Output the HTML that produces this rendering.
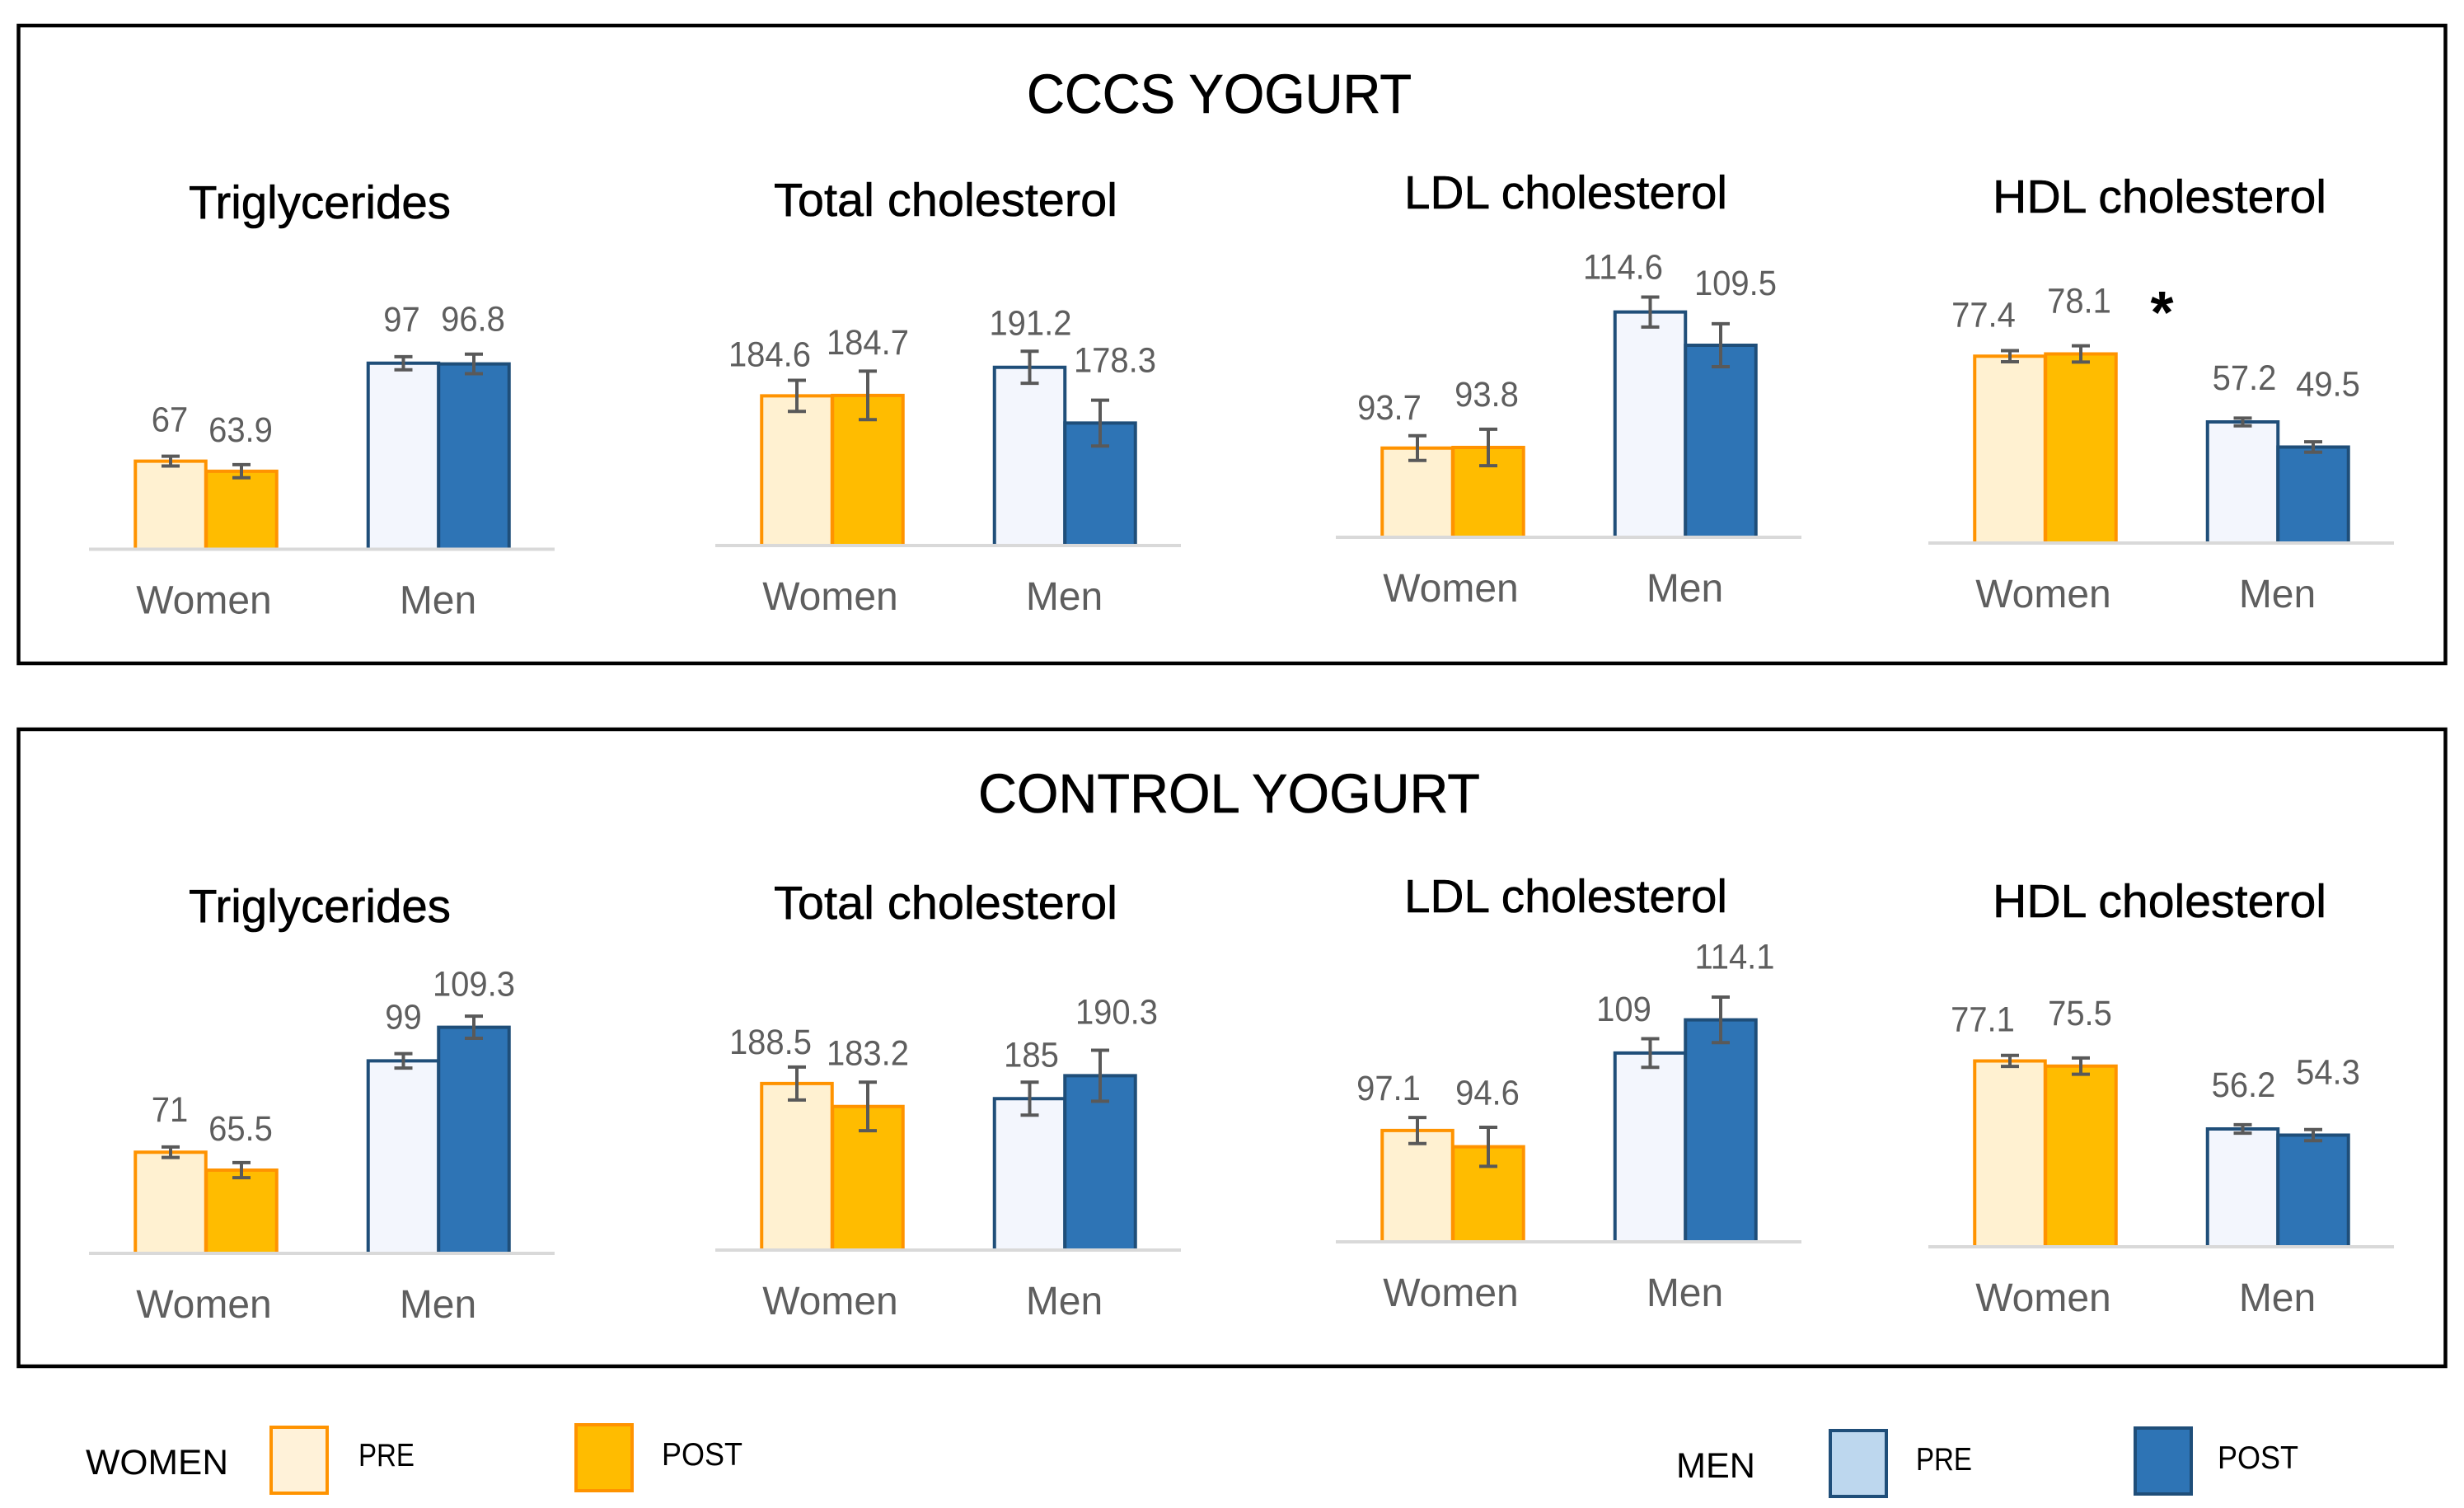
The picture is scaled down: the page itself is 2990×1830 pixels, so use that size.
<!DOCTYPE html>
<html lang="en">
<head>
<meta charset="utf-8">
<title>CCCS and control yogurt lipid outcomes</title>
<style>
  html, body { margin: 0; padding: 0; background: #fff; }
  body { width: 2990px; height: 1830px; overflow: hidden; }
  svg { display: block; font-family: "Liberation Sans", sans-serif; }
  .section-title { font-size: 67px; fill: #000; stroke: #000; stroke-width: 0.6px; }
  .chart-title { font-size: 57px; fill: #000; stroke: #000; stroke-width: 0.6px; }
  .legend-head { font-size: 43px; fill: #000; }
  .legend-text { font-size: 39px; fill: #000; }
</style>
</head>
<body>
<svg id="figure" xmlns="http://www.w3.org/2000/svg" width="2990" height="1830" viewBox="0 0 2990 1830">
  <rect x="0" y="0" width="2990" height="1830" fill="#fff"/>
  <rect x="22.5" y="31" width="2945" height="774" fill="none" stroke="#000" stroke-width="4.5"/>
  <rect x="22.5" y="885" width="2945" height="773" fill="none" stroke="#000" stroke-width="4.5"/>

  <text class="section-title" x="1246" y="137" textLength="467" lengthAdjust="spacingAndGlyphs">CCCS YOGURT</text>
  <text class="section-title" x="1187" y="986" textLength="609" lengthAdjust="spacingAndGlyphs">CONTROL YOGURT</text>

  <text class="chart-title" x="229" y="265" textLength="318" lengthAdjust="spacingAndGlyphs">Triglycerides</text>
  <text class="chart-title" x="939" y="262" textLength="417" lengthAdjust="spacingAndGlyphs">Total cholesterol</text>
  <text class="chart-title" x="1704" y="253" textLength="392" lengthAdjust="spacingAndGlyphs">LDL cholesterol</text>
  <text class="chart-title" x="2418" y="258" textLength="405" lengthAdjust="spacingAndGlyphs">HDL cholesterol</text>

  <text class="chart-title" x="229" y="1119" textLength="318" lengthAdjust="spacingAndGlyphs">Triglycerides</text>
  <text class="chart-title" x="939" y="1115" textLength="417" lengthAdjust="spacingAndGlyphs">Total cholesterol</text>
  <text class="chart-title" x="1704" y="1107" textLength="392" lengthAdjust="spacingAndGlyphs">LDL cholesterol</text>
  <text class="chart-title" x="2418" y="1113" textLength="405" lengthAdjust="spacingAndGlyphs">HDL cholesterol</text>

  <text x="2623.5" y="404" text-anchor="middle" font-size="72" font-weight="bold" fill="#000">*</text>

  <g id="charts"></g>

  <g>
    <text class="legend-head" x="104" y="1789" textLength="173" lengthAdjust="spacingAndGlyphs">WOMEN</text>
    <rect x="329" y="1732" width="68" height="80" fill="#FFF2D9" stroke="#FF9300" stroke-width="4"/>
    <text class="legend-text" x="435" y="1779" textLength="68" lengthAdjust="spacingAndGlyphs">PRE</text>
    <rect x="699" y="1729" width="68" height="80" fill="#FFBC00" stroke="#FF9300" stroke-width="4"/>
    <text class="legend-text" x="803" y="1778" textLength="98" lengthAdjust="spacingAndGlyphs">POST</text>
  </g>
  <g>
    <text class="legend-head" x="2034" y="1793" textLength="96" lengthAdjust="spacingAndGlyphs">MEN</text>
    <rect x="2221" y="1736" width="68" height="80" fill="#BDD7EE" stroke="#1F4E79" stroke-width="4"/>
    <text class="legend-text" x="2325" y="1784" textLength="68" lengthAdjust="spacingAndGlyphs">PRE</text>
    <rect x="2591" y="1733" width="68" height="80" fill="#2E74B5" stroke="#1F4E79" stroke-width="4"/>
    <text class="legend-text" x="2691" y="1782" textLength="98" lengthAdjust="spacingAndGlyphs">POST</text>
  </g>
</svg>

<script>
// Categories and series order
const categories = ['Women', 'Men'];
const barSeries = ['women-pre', 'women-post', 'men-pre', 'men-post'];
const panelKeys = ['cccs', 'control'];
const chartKeys = ['triglycerides', 'total-cholesterol', 'ldl-cholesterol', 'hdl-cholesterol'];

// Values: women pre, women post, men pre, men post
const cccsTriglycerides = [67, 63.9, 97, 96.8];
const cccsTotalCholesterol = [184.6, 184.7, 191.2, 178.3];
const cccsLdlCholesterol = [93.7, 93.8, 114.6, 109.5];
const cccsHdlCholesterol = [77.4, 78.1, 57.2, 49.5];
const controlTriglycerides = [71, 65.5, 99, 109.3];
const controlTotalCholesterol = [188.5, 183.2, 185, 190.3];
const controlLdlCholesterol = [97.1, 94.6, 109, 114.1];
const controlHdlCholesterol = [77.1, 75.5, 56.2, 54.3];

// Error half-widths, in data units
const cccsTriglyceridesError = [1.5, 2, 2, 3];
const cccsTotalCholesterolError = [3.6, 5.6, 3.7, 5.3];
const cccsLdlCholesterolError = [1.9, 2.8, 2.3, 3.3];
const cccsHdlCholesterolError = [1.7, 2.5, 1.2, 1.6];
const controlTriglyceridesError = [1.6, 2.3, 2.2, 3.4];
const controlTotalCholesterolError = [3.8, 5.6, 3.8, 5.9];
const controlLdlCholesterolError = [2, 3, 2.2, 3.5];
const controlHdlCholesterolError = [1.7, 2.5, 1.3, 1.7];

// Axis minimum for each chart column
const axisMinimums = [40, 150, 80, 20];

const valueSets = [
  [cccsTriglycerides, cccsTotalCholesterol, cccsLdlCholesterol, cccsHdlCholesterol],
  [controlTriglycerides, controlTotalCholesterol, controlLdlCholesterol, controlHdlCholesterol]
];
const errorSets = [
  [cccsTriglyceridesError, cccsTotalCholesterolError, cccsLdlCholesterolError, cccsHdlCholesterolError],
  [controlTriglyceridesError, controlTotalCholesterolError, controlLdlCholesterolError, controlHdlCholesterolError]
];

// Layout (not data)
const layoutLefts = [108, 868, 1621, 2340];
const layoutBaselines = [[666.5, 662, 652, 659], [1521, 1517, 1507, 1513]];
const layoutScales = [3.96, 5.25, 7.9, 3.95];
const layoutLabelDx = [
  [[-1, -1, -2, -1], [-33, 0, 1, 18], [-34, -2, -33, 18], [-32, -2, 2, 18]],
  [[-1, -1, 0, 0], [-32, 0, 2, 20], [-35, -1, -32, 17], [-33, -1, 1, 18]]
];
const layoutLabelDy = [
  [[-36, -36, -39, -40], [-36, -50, -39, -62], [-35, -50, -40, -61], [-36, -50, -39, -62]],
  [[-37, -36, -39, -38], [-36, -50, -39, -63], [-37, -51, -39, -62], [-36, -50, -39, -62]]
];
const barWidth = 85.5;
const barCentreOffsets = [99, 185, 381.5, 467];
const categoryCentreOffsets = [139.5, 423.5];
const fills = ['#FFF1D1', '#FFBC00', '#F3F6FD', '#2E74B5'];
const strokes = ['#FF9300', '#FF9300', '#1F4E79', '#1F4E79'];

const SVG_NS = 'http://www.w3.org/2000/svg';
const root = document.getElementById('charts');

function make(parent, tag, attrs) {
  const el = document.createElementNS(SVG_NS, tag);
  Object.keys(attrs).forEach(function (k) { el.setAttribute(k, attrs[k]); });
  parent.appendChild(el);
  return el;
}
function yScale(col, base, value) {
  return base - (value - axisMinimums[col]) * layoutScales[col];
}
function xBar(col, i) {
  return layoutLefts[col] + barCentreOffsets[i];
}

panelKeys.forEach(function (panelKey, p) {
  chartKeys.forEach(function (chartKey, c) {
    const prefix = panelKey + '-' + chartKey;
    const base = layoutBaselines[p][c];
    const values = valueSets[p][c];
    const errors = errorSets[p][c];

    const group = make(root, 'g', {});
    
    

    const axis = make(group, 'line', {
      x1: layoutLefts[c], x2: layoutLefts[c] + 565, y1: base, y2: base,
      stroke: '#D9D9D9', 'stroke-width': 4
    });
    
    

    values.forEach(function (v, i) {
      const cx = xBar(c, i);
      const top = yScale(c, base, v);
      const left = cx - barWidth / 2;
      const bottom = base - 2;
      const bar = make(group, 'path', {
        d: 'M' + left + ' ' + bottom + 'V' + top + 'H' + (left + barWidth) + 'V' + bottom,
        fill: fills[i], stroke: strokes[i], 'stroke-width': 4
      });
      
      
    });

    values.forEach(function (v, i) {
      const cx = xBar(c, i);
      const hi = yScale(c, base, v + errors[i]);
      const lo = yScale(c, base, v - errors[i]);
      const err = make(group, 'path', {
        d: 'M' + (cx - 11) + ' ' + hi + 'H' + (cx + 11) + 'M' + cx + ' ' + hi + 'V' + lo + 'M' + (cx - 11) + ' ' + lo + 'H' + (cx + 11),
        fill: 'none', stroke: '#595959', 'stroke-width': 4
      });
      
      

      const label = make(group, 'text', {
        x: cx + layoutLabelDx[p][c][i],
        y: yScale(c, base, v) + layoutLabelDy[p][c][i],
        'text-anchor': 'middle', 'font-size': 43, fill: '#5E5E5E'
      });
      label.textContent = String(v);
      
      
      label.setAttribute('lengthAdjust', 'spacingAndGlyphs');
      label.setAttribute('textLength', (label.getComputedTextLength() * 0.93).toFixed(1));
    });

    categories.forEach(function (name, k) {
      const tick = make(group, 'text', {
        x: layoutLefts[c] + categoryCentreOffsets[k],
        y: base + 78,
        'text-anchor': 'middle', 'font-size': 48, fill: '#5E5E5E'
      });
      tick.textContent = name;
      
      
    });
  });
});
</script>
</body>
</html>
